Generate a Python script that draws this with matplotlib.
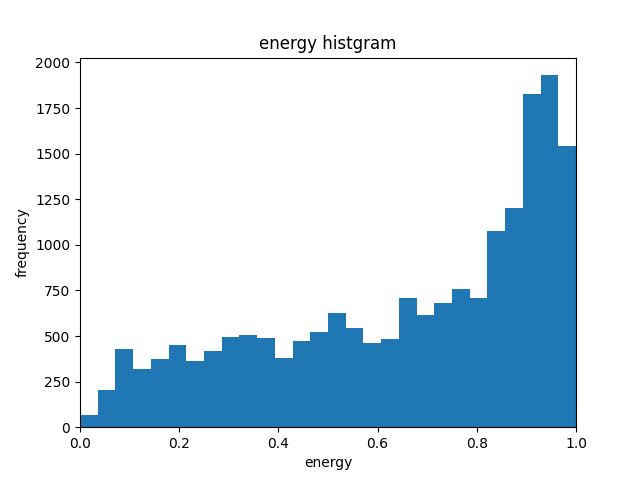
import numpy as np
import matplotlib
matplotlib.use("Agg")
import matplotlib.pyplot as plt

# bin counts (28 equal bins on [0, 1])
counts = [65, 205, 430, 320, 375, 450, 365, 420, 495, 505, 490, 380, 470, 520,
          625, 545, 460, 485, 710, 615, 680, 760, 710, 1075, 1200, 1825, 1930, 1540]
edges = np.linspace(0, 1, len(counts) + 1)

plt.figure(figsize=(6.4, 4.8), dpi=100)
plt.hist(edges[:-1], bins=edges, weights=counts)
plt.title("energy histgram")
plt.xlabel("energy")
plt.ylabel("frequency")
plt.xlim(0, 1)
plt.savefig("out.png")
